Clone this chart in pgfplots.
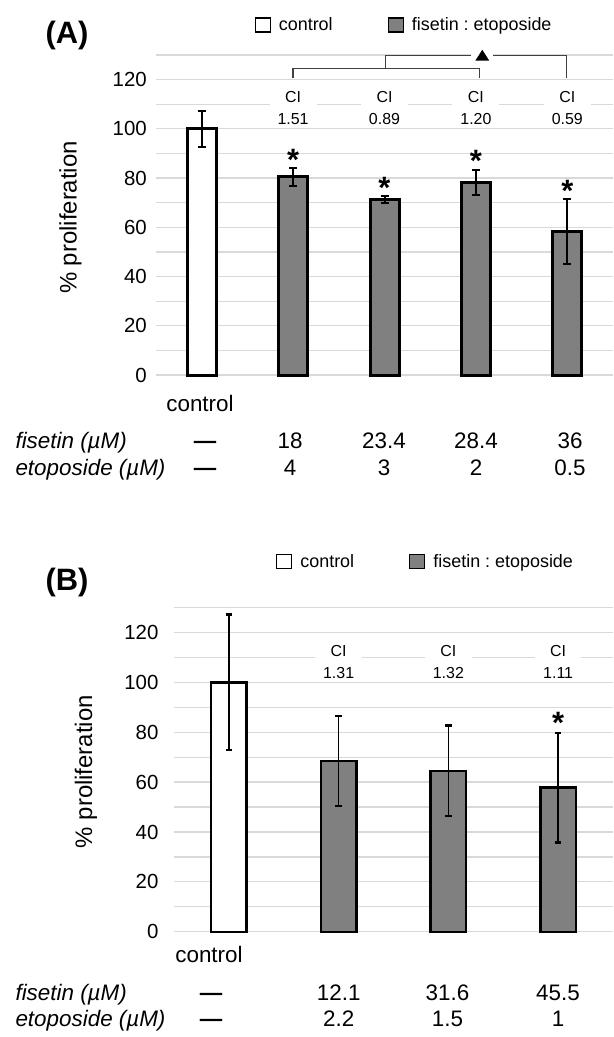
\documentclass[border=0pt]{standalone}
\usepackage{fontspec}
\setmainfont{Liberation Sans}
\usepackage{pgfplots}
\pgfplotsset{compat=1.18}
\definecolor{bargray}{RGB}{128,128,128}
\definecolor{gridgray}{RGB}{217,217,217}
\definecolor{brk}{RGB}{64,64,64}
\frenchspacing

\pgfplotsset{
  prolif/.style={
    scale only axis, ymin=0, ymax=130,
    ytick={0,20,...,120}, minor ytick={10,30,...,130},
    ymajorgrids, yminorgrids,
    grid style={gridgray, line width=1.3bp},
    minor grid style={gridgray, line width=1.3bp},
    axis line style={draw=none}, major tick length=0pt, minor tick length=0pt,
    xtick=\empty, ybar, clip=false,
    /pgf/number format/assume math mode=true,
    tick label style={font=\fontsize{20.5}{20.5}\selectfont},
    yticklabel style={inner sep=0pt, anchor=east},
    ylabel={\% proliferation},
    ylabel style={font=\fontsize{24}{24}\selectfont, anchor=center},
    legend columns=2, legend cell align=left,
    legend style={draw=none, fill=none, inner sep=0pt, anchor=west,
      font=\fontsize{18}{18}\selectfont, nodes={inner sep=0pt},
      /tikz/every odd column/.append style={column sep=8bp},
      /tikz/every even column/.append style={column sep=55bp}},
  },
  boxleg/.style={legend image code/.code={\draw[##1, line width=1.2bp] (0bp,-7bp) rectangle (15bp,7bp);}},
}
\tikzset{
  ci/.style={anchor=north, fill=white, align=center, inner xsep=8bp, inner ysep=1bp,
    font=\fontsize{16}{22}\selectfont},
  star/.style={anchor=north, inner sep=0pt, font=\bfseries\fontsize{31}{31}\selectfont},
}

\begin{document}
\begin{tikzpicture}
\useasboundingbox (0,0) rectangle (614bp,-1037bp);

% ---------- panel A
\begin{axis}[prolif, at={(156bp,-375bp)}, anchor=south west,
  width=457bp, height=320bp, xmin=-0.5, xmax=4.5, bar width=29bp,
  yticklabel shift=9bp,
  ylabel style={at={(axis description cs:-0.187,0.492)}},
  legend style={at={(0.2155,1.094)}}]
\addplot[bar shift=0pt, fill=white, draw=black, line width=3bp, boxleg,
  error bars/.cd, y dir=both, y explicit, error mark=|,
  error bar style={line width=2bp, black},
  error mark options={mark size=4bp, line width=2bp, black}]
  coordinates {(0,100) +- (0,7.3)};
\addplot[bar shift=0pt, fill=bargray, draw=black, line width=3bp, boxleg,
  error bars/.cd, y dir=both, y explicit, error mark=|,
  error bar style={line width=2bp, black},
  error mark options={mark size=4bp, line width=2bp, black}]
  coordinates {(1,80.5) +- (0,3.7) (2,71.2) +- (0,1.5) (3,78.3) +- (0,5.1) (4,58.3) +- (0,13.2)};
\legend{control, fisetin : etoposide}
\node[ci] at (axis cs:1,115.8) {CI\\1.51};
\node[ci] at (axis cs:2,115.8) {CI\\0.89};
\node[ci] at (axis cs:3,115.8) {CI\\1.20};
\node[ci] at (axis cs:4,115.8) {CI\\0.59};
\node[star] at (axis cs:1,91.7) {*};
\node[star] at (axis cs:2,80.4) {*};
\node[star] at (axis cs:3,91.2) {*};
\node[star] at (axis cs:4,79.0) {*};
\draw[brk, line width=1.3bp] (axis cs:1,120.5) |- (axis cs:3.04,124.4) -- (axis cs:3.04,120.5);
\draw[brk, line width=1.3bp] (axis cs:2.01,124.4) |- (axis cs:3.99,129.7) -- (axis cs:3.99,120.5);
\path (axis cs:3.07,129.7) coordinate (tri);
\fill[white] ([shift={(-11bp,-4bp)}]tri) rectangle ([shift={(11bp,4bp)}]tri);
\fill[black] ([shift={(-7bp,-5bp)}]tri) -- ([shift={(7bp,-5bp)}]tri) -- ([shift={(0bp,6bp)}]tri) -- cycle;
\end{axis}

\node[anchor=base west, font=\bfseries\fontsize{31}{31}\selectfont] at (42bp,-43bp) {(A)};
\begin{scope}[font=\fontsize{22.5}{22.5}\selectfont]
\node[anchor=base] at (200bp,-411.7bp) {control};
\node[anchor=base west, font=\itshape\fontsize{22.5}{22.5}\selectfont] at (12bp,-448.5bp) {fisetin (µM)};
\node[anchor=base west, font=\itshape\fontsize{22.5}{22.5}\selectfont] at (12bp,-475bp) {etoposide (µM)};
\node[anchor=base, font=\bfseries\fontsize{22.5}{22.5}\selectfont] at (205bp,-448.5bp) {—};
\node[anchor=base, font=\bfseries\fontsize{22.5}{22.5}\selectfont] at (205bp,-475bp) {—};
\node[anchor=base] at (290bp,-448.5bp) {18};
\node[anchor=base] at (384bp,-448.5bp) {23.4};
\node[anchor=base] at (476bp,-448.5bp) {28.4};
\node[anchor=base] at (570bp,-448.5bp) {36};
\node[anchor=base] at (290bp,-475bp) {4};
\node[anchor=base] at (384bp,-475bp) {3};
\node[anchor=base] at (476bp,-475bp) {2};
\node[anchor=base] at (570bp,-475bp) {0.5};
\end{scope}

% ---------- panel B
\begin{axis}[prolif, at={(174bp,-931.7bp)}, anchor=south west,
  width=439bp, height=324.1bp, xmin=-0.5, xmax=3.5, bar width=35.5bp,
  yticklabel shift=15.4bp,
  ylabel style={at={(axis description cs:-0.2005,0.4937)}},
  legend style={at={(0.2323,1.1416)}}]
\addplot[bar shift=0pt, fill=white, draw=black, line width=2.3bp, boxleg,
  error bars/.cd, y dir=both, y explicit, error mark=|,
  error bar style={line width=1.5bp, black},
  error mark options={mark size=3.2bp, line width=2.3bp, black}]
  coordinates {(0,100) +- (0,27.2)};
\addplot[bar shift=0pt, fill=bargray, draw=black, line width=2.3bp, boxleg,
  error bars/.cd, y dir=both, y explicit, error mark=|,
  error bar style={line width=1.5bp, black},
  error mark options={mark size=3.2bp, line width=2.3bp, black}]
  coordinates {(1,68.4) +- (0,18.1) (2,64.6) +- (0,18.1) (3,57.8) +- (0,22)};
\legend{control, fisetin : etoposide}
\node[ci] at (axis cs:1,115.4) {CI\\1.31};
\node[ci] at (axis cs:2,115.4) {CI\\1.32};
\node[ci] at (axis cs:3,115.4) {CI\\1.11};
\node[star] at (axis cs:3,88.2) {*};
\end{axis}

\node[anchor=base west, font=\bfseries\fontsize{31}{31}\selectfont] at (42bp,-590.4bp) {(B)};
\begin{scope}[font=\fontsize{22.5}{22.5}\selectfont]
\node[anchor=base] at (209bp,-962.5bp) {control};
\node[anchor=base west, font=\itshape\fontsize{22.5}{22.5}\selectfont] at (12bp,-1000.3bp) {fisetin (µM)};
\node[anchor=base west, font=\itshape\fontsize{22.5}{22.5}\selectfont] at (12bp,-1026.3bp) {etoposide (µM)};
\node[anchor=base, font=\bfseries\fontsize{22.5}{22.5}\selectfont] at (211bp,-1000.3bp) {—};
\node[anchor=base, font=\bfseries\fontsize{22.5}{22.5}\selectfont] at (211bp,-1026.3bp) {—};
\node[anchor=base] at (338.7bp,-1000.3bp) {12.1};
\node[anchor=base] at (447.5bp,-1000.3bp) {31.6};
\node[anchor=base] at (558bp,-1000.3bp) {45.5};
\node[anchor=base] at (338.7bp,-1026.3bp) {2.2};
\node[anchor=base] at (447.5bp,-1026.3bp) {1.5};
\node[anchor=base] at (558bp,-1026.3bp) {1};
\end{scope}
\end{tikzpicture}
\end{document}
